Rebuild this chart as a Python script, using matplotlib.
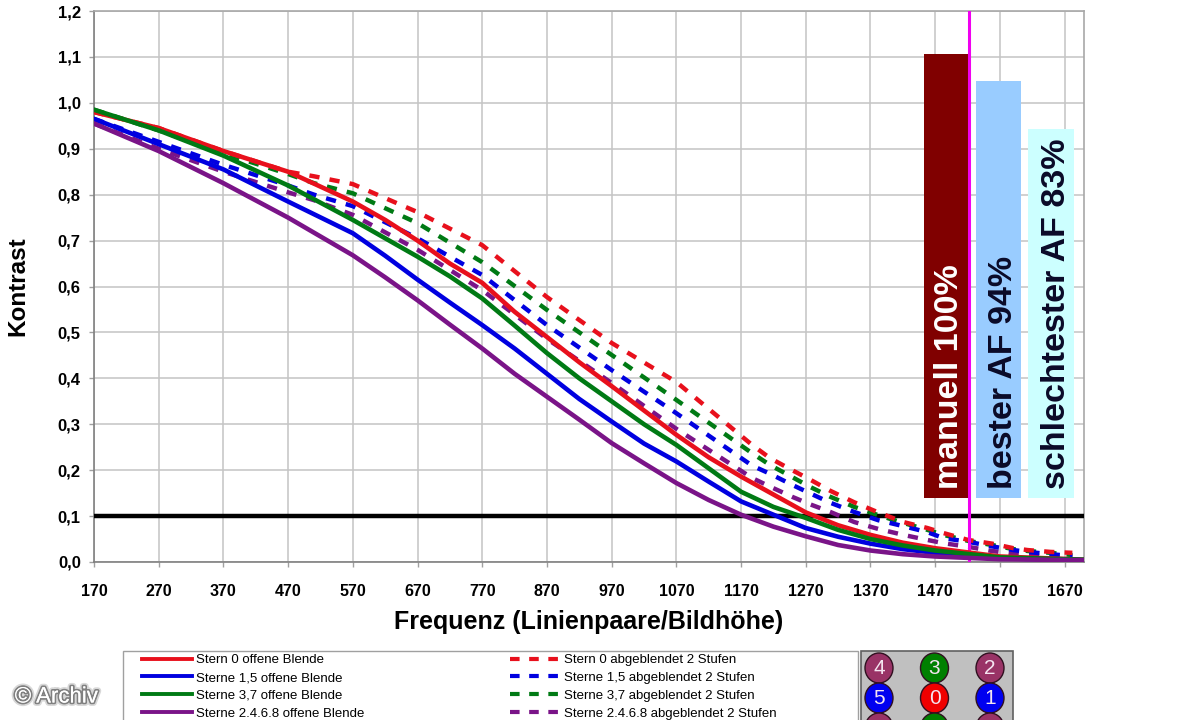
import matplotlib
matplotlib.use("Agg")
import matplotlib.pyplot as plt
import matplotlib.patheffects as pe
from matplotlib.lines import Line2D
from matplotlib.patches import Ellipse, Rectangle

plt.rcParams["font.family"] = ["Liberation Sans", "DejaVu Sans"]

W, H = 1200, 720

solid_freq = [170, 270, 370, 470, 570, 620, 670, 720, 770, 820, 870, 920, 970, 1020, 1070, 1120, 1170, 1220,
              1270, 1320, 1370, 1420, 1470, 1570, 1700]
red_open = [0.98, 0.945, 0.895, 0.85, 0.785, 0.745, 0.70, 0.65, 0.608, 0.545, 0.49, 0.435, 0.383, 0.33, 0.277,
            0.228, 0.186, 0.147, 0.108, 0.08, 0.059, 0.042, 0.03, 0.012, 0.005]
blue_open = [0.965, 0.91, 0.855, 0.785, 0.716, 0.667, 0.615, 0.565, 0.516, 0.465, 0.41, 0.355, 0.306, 0.258, 0.219,
             0.175, 0.132, 0.103, 0.074, 0.055, 0.04, 0.028, 0.02, 0.008, 0.004]
green_open = [0.985, 0.94, 0.885, 0.82, 0.745, 0.705, 0.665, 0.622, 0.574, 0.515, 0.455, 0.40, 0.35, 0.30, 0.255,
              0.204, 0.153, 0.12, 0.096, 0.07, 0.05, 0.036, 0.025, 0.01, 0.005]
purple_open = [0.955, 0.895, 0.825, 0.75, 0.668, 0.62, 0.57, 0.517, 0.465, 0.41, 0.36, 0.31, 0.259, 0.215, 0.172,
               0.135, 0.103, 0.077, 0.056, 0.037, 0.025, 0.017, 0.012, 0.006, 0.004]

stop_freq = [170, 270, 370, 470, 510, 570, 670, 770, 870, 970, 1070, 1187, 1215, 1249, 1276, 1308, 1345,
             1382, 1421, 1458, 1483, 1521, 1558, 1591, 1613, 1648, 1682]
red_stop = [0.98, 0.945, 0.895, 0.85, 0.84, 0.823, 0.762, 0.69, 0.577, 0.477, 0.392, 0.255, 0.226, 0.20,
            0.18, 0.155, 0.13, 0.108, 0.087, 0.074, 0.063, 0.048, 0.04, 0.03, 0.026, 0.022, 0.02]
blue_stop = [0.965, 0.915, 0.865, 0.82, 0.80, 0.775, 0.705, 0.625, 0.516, 0.418, 0.324, 0.21, 0.192, 0.168,
             0.15, 0.129, 0.109, 0.091, 0.078, 0.065, 0.052, 0.044, 0.034, 0.026, 0.022, 0.017, 0.013]
green_stop = [0.985, 0.94, 0.89, 0.845, 0.825, 0.803, 0.738, 0.653, 0.549, 0.451, 0.353, 0.237, 0.211, 0.185,
              0.164, 0.142, 0.12, 0.102, 0.085, 0.07, 0.059, 0.046, 0.037, 0.028, 0.024, 0.02, 0.015]
purple_stop = [0.955, 0.90, 0.85, 0.805, 0.788, 0.756, 0.68, 0.592, 0.486, 0.39, 0.29, 0.183, 0.164, 0.142,
               0.126, 0.109, 0.087, 0.072, 0.059, 0.048, 0.041, 0.033, 0.024, 0.018, 0.015, 0.012, 0.01]

open_labels = ["Stern 0 offene Blende", "Sterne 1,5 offene Blende", "Sterne 3,7 offene Blende",
               "Sterne 2.4.6.8 offene Blende"]
stop_labels = ["Stern 0 abgeblendet 2 Stufen", "Sterne 1,5 abgeblendet 2 Stufen", "Sterne 3,7 abgeblendet 2 Stufen",
               "Sterne 2.4.6.8 abgeblendet 2 Stufen"]

bar_labels = ["manuell 100%", "bester AF 94%", "schlechtester AF 83%"]
bar_tops = [1.106, 1.047, 0.943]
bar_bottom = 0.139
focus_freq = 1523
limit_contrast = 0.1

badge_rows = [["4", "3", "2"], ["5", "0", "1"], ["6", "7", "8"]]

RED = "#e8101c"
BLUE = "#0000e0"
GREEN = "#007a14"
PURPLE = "#7a1488"
BADGE_PURPLE = "#993366"
BADGE_GREEN = "#008000"
BADGE_BLUE = "#0000f0"
BADGE_RED = "#f00000"
badge_colors = [[BADGE_PURPLE, BADGE_GREEN, BADGE_PURPLE],
                [BADGE_BLUE, BADGE_RED, BADGE_BLUE],
                [BADGE_PURPLE, BADGE_GREEN, BADGE_PURPLE]]

fig = plt.figure(figsize=(W / 100, H / 100), dpi=100)
ax = fig.add_axes([94 / W, (H - 562) / H, 990 / W, 551 / H])

ax.set_xlim(170, 1700)
ax.set_ylim(0, 1.2)
ax.set_xticks(range(170, 1700, 100))
ax.set_yticks([i / 10 for i in range(13)])
ax.set_yticklabels([f"{i / 10:.1f}".replace(".", ",") for i in range(13)])
ax.grid(True, color="#c4c4c4", lw=1.1)
ax.set_axisbelow(True)
ax.tick_params(length=3.5, width=1, color="#a0a0a0", labelsize=12)
ax.tick_params(axis="x", pad=12, labelsize=11.5)
ax.tick_params(axis="y", pad=6)
for label in ax.get_xticklabels() + ax.get_yticklabels():
    label.set_fontweight("bold")
for side, spine in ax.spines.items():
    spine.set_color("#a8a8a8" if side in ("top", "right") else "#808080")
    spine.set_linewidth(1.2)

ax.set_xlabel("Frequenz (Linienpaare/Bildhöhe)", fontsize=18, fontweight="bold")
ax.set_ylabel("Kontrast", fontsize=17.5, fontweight="bold")
ax.xaxis.set_label_coords(0.5, -0.087)
ax.yaxis.set_label_coords(-0.0657, 0.5)

# bars sit behind the curves
bar_colors = ["#800000", "#99ccff", "#ccffff"]
text_colors = ["white", "#0a0a28", "#0a0a28"]
bar_centers = [1488, 1568, 1649]
text_shift = [4, 7, 8]
for i in range(3):
    ax.bar(bar_centers[i], bar_tops[i] - bar_bottom, 70, bottom=bar_bottom, color=bar_colors[i], zorder=2)
    ax.text(bar_centers[i] + text_shift[i], 0.16, bar_labels[i], rotation=90, ha="center", va="bottom",
            color=text_colors[i], fontsize=24.5, fontweight="bold", zorder=3)

ax.axhline(limit_contrast, color="black", lw=3.2, zorder=3)

stop_series = [red_stop, blue_stop, green_stop, purple_stop]
open_series = [red_open, blue_open, green_open, purple_open]
colors = [RED, BLUE, GREEN, PURPLE]

for values, color in zip(reversed(stop_series), reversed(colors)):
    ax.plot(stop_freq, values, color=color, lw=3.2, dashes=(2.3, 2.3), zorder=4)

ax.axvline(focus_freq, color="#f000f0", lw=2.2, zorder=5)

for values, color in zip(open_series, colors):
    ax.plot(solid_freq, values, color=color, lw=3.3, zorder=6)

# legend box runs off the bottom of the picture, same as the reference
fig.add_artist(Rectangle((123 / W, -5 / H), 735 / W, 74 / H, transform=fig.transFigure,
                         facecolor="white", edgecolor="#a0a0a0", lw=1))
handles = [Line2D([], [], color=c, lw=2.8) for c in colors]
handles += [Line2D([], [], color=c, lw=3, dashes=(2.3, 2.3)) for c in colors]
fig.legend(handles, open_labels + stop_labels, ncol=2, frameon=False, loc="upper left",
           bbox_to_anchor=(142 / W, (H - 654) / H), borderpad=0, borderaxespad=0, fontsize=9.5,
           handlelength=3.8, handletextpad=0.3, labelspacing=0.42, columnspacing=11)

# star layout panel
fig.add_artist(Rectangle((861 / W, -5 / H), 152 / W, 74 / H, transform=fig.transFigure,
                         facecolor="#c0c0c0", edgecolor="#606060", lw=1.2))
for r in range(3):
    for c in range(3):
        cx = 879 + 55.5 * c
        cy = 668 + 30 * r
        fig.add_artist(Ellipse((cx / W, (H - cy) / H), 28 / W, 30 / H, transform=fig.transFigure,
                               facecolor=badge_colors[r][c], edgecolor="#301020", lw=1))
        fig.text(cx / W, (H - cy) / H, badge_rows[r][c], color="#f4e4f0", fontsize=15, ha="center", va="center")

fig.text(56.5 / W, (H - 697) / H, "© Archiv", color="white", fontsize=16, ha="center", va="center",
         path_effects=[pe.withStroke(linewidth=5, foreground="#d8d8d8"),
                       pe.withStroke(linewidth=2.5, foreground="#808080"),
                       pe.Normal()])

fig.savefig("out.png", dpi=100)
